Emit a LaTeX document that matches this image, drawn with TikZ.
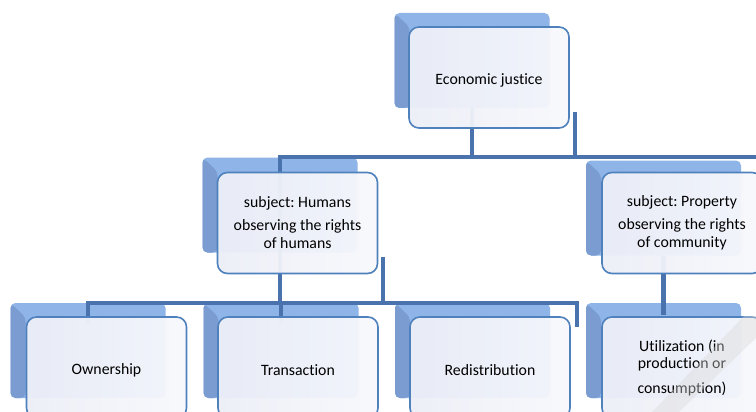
\documentclass[tikz,border=0pt]{standalone}
\usepackage{fontspec}
\setmainfont{Carlito}[Ligatures=NoCommon]
\usetikzlibrary{positioning,calc}
\definecolor{linkblue}{HTML}{4A73AE}
\definecolor{edgeblue}{HTML}{4F81BD}
\definecolor{backdark}{HTML}{7A9CD1}
\definecolor{backlight}{HTML}{8FB5E8}
\definecolor{frontfill}{HTML}{EDEFF7}
\frenchspacing

\begin{document}
\begin{tikzpicture}[x=1pt,y=-1pt,
    back box/.style={rounded corners=5pt,inner sep=0pt,minimum width=155pt,minimum height=95pt,
      fill=backlight,
      path picture={\fill[backdark] (path picture bounding box.north west) -- ++(15,14)
        -- ([xshift=15pt]path picture bounding box.south west) -- (path picture bounding box.south west) -- cycle;}},
    front box/.style={rounded corners=10pt,draw=edgeblue,line width=1.6pt,
      left color=frontfill,right color=frontfill!40!white,fill opacity=0.95,text opacity=1,
      inner sep=0pt,minimum width=160pt,minimum height=101pt,align=center,
      font=\fontsize{15.8}{18}\selectfont,execute at begin node={\rule{0pt}{16.5pt}}},
    link/.style={draw=linkblue,line width=4.5pt}]

  \useasboundingbox (0,0) rectangle (756,412);
  \clip (0,0) rectangle (756,412);
  \fill[white] (0,0) rectangle (756,412);

  % shadow boxes
  \node[back box] (b0) at (472,60.5) {};
  \node[back box] (b1) at (280,205) {};
  \node[back box] (b2) at (663.5,208) {};
  \node[back box] (b3) at (88,350.5) {};
  \node[back box] (b4) at (281,350.5) {};
  \node[back box] (b5) at (472.5,350.5) {};
  \node[back box] (b6) at (663.5,350.5) {};

  % connectors
  \coordinate (bar1 west) at (278,157);
  \coordinate (bar1 east) at (760,157);
  \coordinate (bar2 west) at (86,303);
  \coordinate (bar2 east) at (577,303);
  \coordinate (stub0) at (575,112);
  \coordinate (stub1) at (383,257);

  \draw[link] (b0.south) -- (b0.south |- bar1 west);
  \draw[link] (stub0) -- (stub0 |- bar1 west);
  \draw[link] (bar1 west) -- (bar1 east);
  \draw[link] (b1.north |- bar1 west) -- (b1.north |- bar2 west);
  \draw[link] (stub1) -- (stub1 |- bar2 west);
  \draw[link] ($(b3.north)+(0,22)$) -- (bar2 west -| b3.north) -- (bar2 west) -- (bar2 east) -- ++(0,24);
  \draw[link] (b4.north) -- ++(0,20);
  \draw[link] (b2.south) -- ($(b6.north)+(0,12)$);

  % front boxes
  \node[front box] (econ) at ($(b0)+(17,17)$) {Economic justice};
  \node[front box] (humans) at ($(b1)+(17.5,18)$) {subject: Humans\\[5pt]observing the rights\\of humans};
  \node[front box] (property) at ($(b2)+(18.5,15)$) {subject: Property\\[5pt]observing the rights\\of community};
  \node[front box] (own) at ($(b3)+(18.5,17)$) {Ownership};
  \node[front box] (trans) at ($(b4)+(17,17)$) {Transaction};
  \node[front box] (redis) at ($(b5)+(17.5,17)$) {Redistribution};
  \node[front box] (util) at ($(b6)+(18.5,17)$) {Utilization (in\\[-1pt]production or\\[7pt]consumption)};

  % watermark stroke
  \fill[gray!30,opacity=0.4] (652,412) -- (744,316) -- (756,316) -- (756,338) -- (679,412) -- cycle;
\end{tikzpicture}
\end{document}
